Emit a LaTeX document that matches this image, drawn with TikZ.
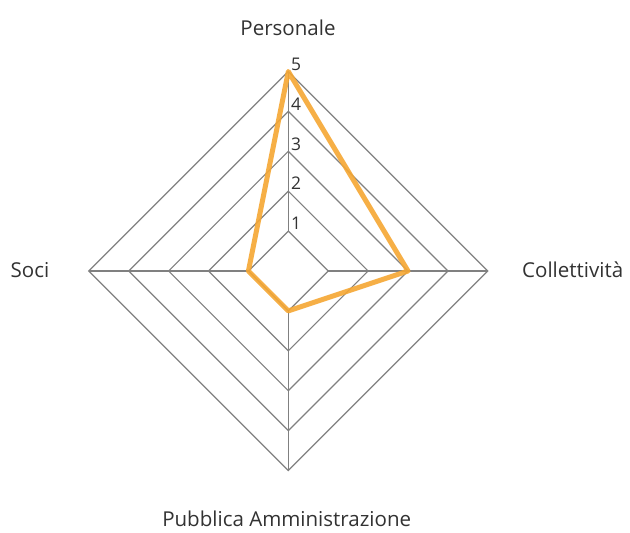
\documentclass[tikz,border=0pt]{standalone}
\usepackage{fontspec}
\setmainfont{Open Sans}
\definecolor{gridgray}{RGB}{128,128,128}
\definecolor{serieorange}{RGB}{245,166,50}
\definecolor{labelgray}{RGB}{50,50,50}
\begin{document}
\begin{tikzpicture}[x=1bp,y=-1bp,
  grid/.style={draw=gridgray, line width=1.2bp},
  series/.style={draw=serieorange, line width=5bp, line join=round, opacity=0.9},
  cat/.style={font=\fontsize{20.6}{24}\selectfont, inner sep=0pt, text=labelgray},
  tick/.style={font=\fontsize{17.5}{20}\selectfont, inner sep=0pt, anchor=base west, text=labelgray}]
\useasboundingbox (0,0) rectangle (630,533);
\def\cx{288.3}
\def\cy{271}
\def\r{39.9}
% rings
\foreach \k in {1,...,5}{
  \draw[grid] ({\cx},{\cy-\k*\r}) -- ({\cx+\k*\r},{\cy}) -- ({\cx},{\cy+\k*\r}) -- ({\cx-\k*\r},{\cy}) -- cycle;
}
% axes
\draw[grid] ({\cx},{\cy-\r}) -- ({\cx},{\cy-5*\r});
\draw[grid] ({\cx+\r},{\cy}) -- ({\cx+5*\r},{\cy});
\draw[grid] ({\cx},{\cy+\r}) -- ({\cx},{\cy+5*\r});
\draw[grid] ({\cx-\r},{\cy}) -- ({\cx-5*\r},{\cy});
% tick labels
\foreach \k in {1,...,5}{
  \node[tick] (t\k) at ({\cx+2.5},{\cy-\k*\r-1.2}) {\k};
}
% data
\coordinate (pers) at ({\cx},{\cy-5*\r});
\coordinate (coll) at ({\cx+3*\r},{\cy});
\coordinate (pa) at ({\cx},{\cy+1*\r});
\coordinate (soci) at ({\cx-1*\r},{\cy});
\draw[series] (pers) -- (coll) -- (pa) -- (soci) -- cycle;
% category labels
\node[cat, anchor=base] (lpers) at (288,36) {Personale};
\node[cat, anchor=base west] (lcoll) at (522,277.7) {Collettività};
\node[cat, anchor=base] (lpa) at (286.7,526) {Pubblica Amministrazione};
\node[cat, anchor=base west] (lsoci) at (10.5,277.7) {Soci};
\end{tikzpicture}
\end{document}
